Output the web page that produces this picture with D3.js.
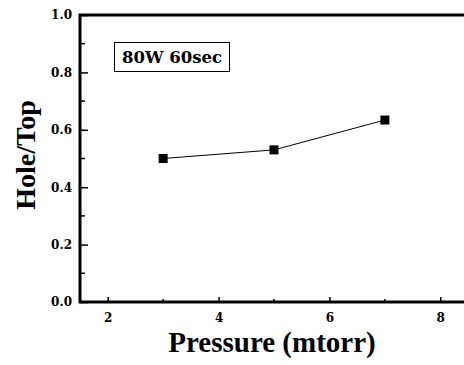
<!DOCTYPE html>
<html>
<head>
<meta charset="utf-8">
<script src="https://cdn.jsdelivr.net/npm/d3@7"></script>
<style>
  body { margin: 0; background: #fff; }
  svg { display: block; }
</style>
</head>
<body>
<div id="chart"></div>
<script>
// data
const pressure = [3, 5, 7];
const hole_top = [0.50, 0.53, 0.634];
const x_ticks = [2, 4, 6, 8];
const x_minor = [3, 5, 7];
const y_ticks = [0.0, 0.2, 0.4, 0.6, 0.8, 1.0];
const y_minor = [0.1, 0.3, 0.5, 0.7, 0.9];
const legend_text = "80W 60sec";

const width = 464, height = 365;
const plot_left = 80, plot_top = 15, plot_right = 468, plot_bottom = 302;

var svg = d3.select("#chart").append("svg")
    .attr("width", width)
    .attr("height", height);

var x = d3.scaleLinear().domain([1.5, 8.5]).range([plot_left, plot_right]);
var y = d3.scaleLinear().domain([0, 1]).range([plot_bottom, plot_top]);

// frame (right side falls outside the picture)
svg.append("rect")
    .attr("x", plot_left).attr("y", plot_top)
    .attr("width", plot_right - plot_left).attr("height", plot_bottom - plot_top)
    .attr("fill", "none").attr("stroke", "#000").attr("stroke-width", 3);

const tick_font = "'DejaVu Serif', serif";

// y axis - ticks point inward
var yAxis = svg.append("g").attr("transform", "translate(" + plot_left + ",0)")
    .call(d3.axisRight(y).tickValues(y_ticks).tickSize(8).tickFormat(d3.format(".1f")));
yAxis.select(".domain").remove();
yAxis.selectAll(".tick line").attr("stroke-width", 1.5);
yAxis.selectAll(".tick text")
    .attr("x", -8).attr("text-anchor", "end")
    .style("font-family", tick_font).style("font-weight", "bold").style("font-size", "12px");
svg.append("g").selectAll("line").data(y_minor).enter().append("line")
    .attr("x1", plot_left).attr("x2", plot_left + 5)
    .attr("y1", d => y(d)).attr("y2", d => y(d))
    .attr("stroke", "#000").attr("stroke-width", 1.5);

// x axis
var xAxis = svg.append("g").attr("transform", "translate(0," + plot_bottom + ")")
    .call(d3.axisTop(x).tickValues(x_ticks).tickSize(5).tickFormat(d3.format("d")));
xAxis.select(".domain").remove();
xAxis.selectAll(".tick line").attr("stroke-width", 1.5);
xAxis.selectAll(".tick text")
    .attr("y", 20)
    .style("font-family", tick_font).style("font-weight", "bold").style("font-size", "12px");
svg.append("g").selectAll("line").data(x_minor).enter().append("line")
    .attr("x1", d => x(d)).attr("x2", d => x(d))
    .attr("y1", plot_bottom).attr("y2", plot_bottom - 3)
    .attr("stroke", "#000").attr("stroke-width", 1.5);

// line + markers
var line = d3.line().x(d => x(d[0])).y(d => y(d[1]));
var pts = pressure.map((p, i) => [p, hole_top[i]]);
svg.append("path").datum(pts)
    .attr("d", line).attr("fill", "none").attr("stroke", "#000").attr("stroke-width", 1);
svg.selectAll(".pt").data(pts).enter().append("rect")
    .attr("class", "pt")
    .attr("x", d => x(d[0]) - 4.5).attr("y", d => y(d[1]) - 4.5)
    .attr("width", 9).attr("height", 9).attr("fill", "#000");

// legend box
var lg = svg.append("g");
lg.append("rect").attr("x", 114.5).attr("y", 42.5).attr("width", 115).attr("height", 29)
    .attr("fill", "#fff").attr("stroke", "#000").attr("stroke-width", 1);
lg.append("text").attr("x", 172).attr("y", 63).attr("text-anchor", "middle")
    .style("font-family", tick_font).style("font-weight", "bold").style("font-size", "16.5px")
    .text(legend_text);

// axis titles
svg.append("text")
    .attr("x", 272).attr("y", 352).attr("text-anchor", "middle")
    .style("font-family", "'Liberation Serif', 'Times New Roman', serif")
    .style("font-weight", "bold").style("font-size", "29px")
    .text("Pressure (mtorr)");
svg.append("text")
    .attr("transform", "translate(35,155) rotate(-90)")
    .attr("text-anchor", "middle")
    .style("font-family", "'Liberation Serif', 'Times New Roman', serif")
    .style("font-weight", "bold").style("font-size", "28px")
    .text("Hole/Top");
</script>
</body>
</html>
